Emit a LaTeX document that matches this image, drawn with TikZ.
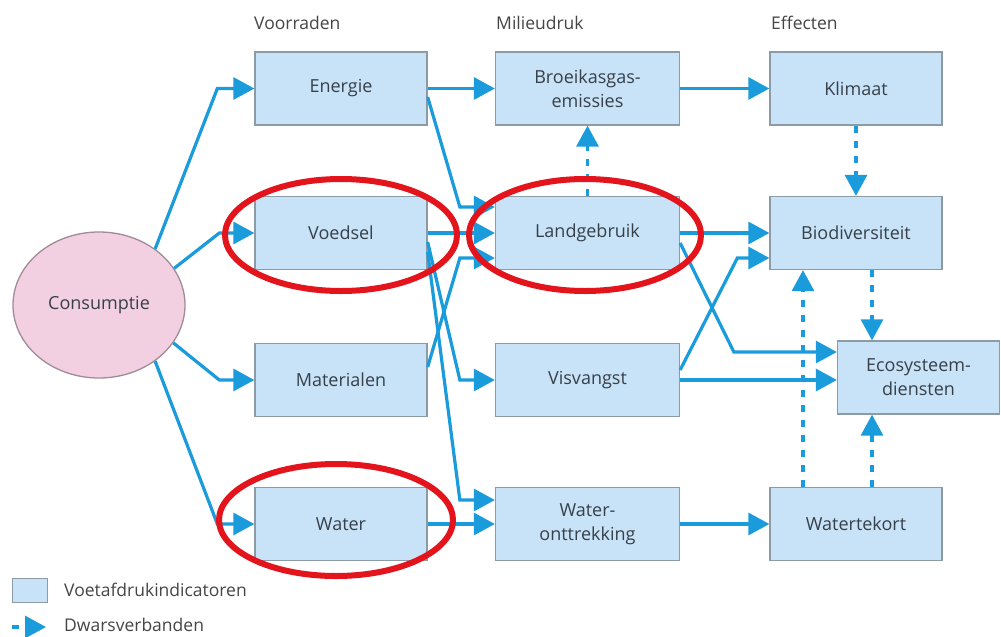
\documentclass[tikz,border=0pt]{standalone}
\usepackage{fontspec}
\setmainfont{Open Sans}
\usetikzlibrary{arrows.meta,shapes.geometric,calc}

\definecolor{boxfill}{HTML}{C8E3F8}
\definecolor{boxline}{HTML}{8C9BA6}
\definecolor{flow}{HTML}{1A9BDB}
\definecolor{consfill}{HTML}{F2D0E2}
\definecolor{consline}{HTML}{A08C98}
\definecolor{hilite}{HTML}{E3141C}
\definecolor{txt}{HTML}{36404A}
\definecolor{headtxt}{HTML}{454545}

\begin{document}
\begin{tikzpicture}[x=1pt,y=-1pt,
  ind/.style={draw=boxline, line width=1.3pt, fill=boxfill,
    minimum width=172pt, minimum height=73pt, inner sep=0pt,
    align=center, text=txt, font=\fontsize{18}{24}\selectfont},
  wideind/.style={ind, minimum width=184pt},
  head/.style={anchor=base west, inner sep=0pt, text=headtxt,
    font=\fontsize{17.5}{21}\selectfont},
  legendtext/.style={anchor=west, inner sep=0pt, text=headtxt,
    font=\fontsize{17.5}{21}\selectfont},
  flowarrow/.style={draw=flow, line width=3.2pt, line join=miter,
    -{Triangle[length=21pt,width=22pt]}},
  cross/.style={flowarrow, dash pattern=on 7pt off 8pt},
  ring/.style={draw=hilite, line width=6pt}
]
% canvas
\fill[white] (0,0) rectangle (1001,637);
\useasboundingbox (0,0) rectangle (1001,637);

% column headings
\node[head] (hvoorraden) at (254,29) {Voorraden};
\node[head] (hmilieudruk) at (496,29) {Milieudruk};
\node[head] (heffecten) at (771,29) {Effecten};

% consumption
\node[ellipse, draw=consline, line width=1.3pt, fill=consfill,
  minimum width=172pt, minimum height=146pt, inner sep=0pt,
  text=txt, font=\fontsize{18}{24}\selectfont] (cons) at (99,305) {Consumptie};

% resources
\node[ind] (energie) at (341,88.5) {Energie};
\node[ind] (voedsel) at (341,233) {Voedsel};
\node[ind] (materialen) at (341,380) {Materialen};
\node[ind] (water) at (341,524) {Water};

% pressures
\node[wideind] (broeikas) at (587.5,88.5) {Broeikasgas-\\emissies};
\node[wideind] (landgebruik) at (587.5,233) {Landgebruik};
\node[wideind] (visvangst) at (587.5,380) {Visvangst};
\node[wideind] (onttrekking) at (587.5,524) {Water-\\onttrekking};

% effects
\node[ind] (klimaat) at (856,88.5) {Klimaat};
\node[ind] (biodiv) at (856,233) {Biodiversiteit};
\node[ind] (watertekort) at (856,524) {Watertekort};
\node[ind, minimum width=162pt] (ecosys) at (918.5,377.5) {Ecosysteem-\\diensten};

% consumption -> resources
\draw[flowarrow] (cons.45) -- ([xshift=-37]energie.west) -- (energie.west);
\draw[flowarrow] (cons.26) -- ([xshift=-35]voedsel.west) -- (voedsel.west);
\draw[flowarrow] (cons.-27) -- ([xshift=-35]materialen.west) -- (materialen.west);
\draw[flowarrow] (cons.-45) -- ([xshift=-37]water.west) -- (water.west);

% resources -> pressures
\draw[flowarrow] (energie.east) -- (broeikas.west);
\draw[flowarrow] ([yshift=-8.5]energie.east) -- ([xshift=-35,yshift=26]landgebruik.west) -- ([yshift=26]landgebruik.west);
\draw[flowarrow] (voedsel.east) -- (landgebruik.west);
\draw[flowarrow] ([yshift=13]materialen.east) -- ([xshift=-35,yshift=-25]landgebruik.west) -- ([yshift=-25]landgebruik.west);
\draw[flowarrow] ([yshift=-9]voedsel.east) -- ([xshift=-35]visvangst.west) -- (visvangst.west);
\draw[flowarrow] ([yshift=-19]voedsel.east) -- ([xshift=-35,yshift=24]onttrekking.west) -- ([yshift=24]onttrekking.west);
\draw[flowarrow] (water.east) -- (onttrekking.west);

% pressures -> effects
\draw[flowarrow] (broeikas.east) -- (klimaat.west);
\draw[flowarrow] (landgebruik.east) -- (biodiv.west);
\draw[flowarrow] ([yshift=-10]landgebruik.east) -- ([xshift=-103,yshift=25.5]ecosys.west) -- ([yshift=25.5]ecosys.west);
\draw[flowarrow] ([yshift=10]visvangst.east) -- ([xshift=-32,yshift=-25]biodiv.west) -- ([yshift=-25]biodiv.west);
\draw[flowarrow] (visvangst.east) -- (visvangst.east -| ecosys.west);
\draw[flowarrow] (onttrekking.east) -- (watertekort.west);

% cross links
\draw[cross] (landgebruik.north) -- (broeikas.south);
\draw[cross] (klimaat.south) -- (biodiv.north);
\draw[cross] ([xshift=16]biodiv.south) -- ([xshift=16]biodiv.south |- ecosys.north);
\draw[cross] ([xshift=-53]watertekort.north) -- ([xshift=-53]watertekort.north |- biodiv.south);
\draw[cross] ([xshift=16]watertekort.north) -- ([xshift=16]watertekort.north |- ecosys.south);

% highlight rings
\draw[ring] ([yshift=-2]voedsel.center) ellipse [x radius=116pt, y radius=56pt];
\draw[ring] ([xshift=-2.5,yshift=-2]landgebruik.center) ellipse [x radius=116pt, y radius=56pt];
\draw[ring] ([xshift=-5,yshift=4]water.center) ellipse [x radius=117pt, y radius=56pt];

% legend
\node[draw=boxline, line width=1.3pt, fill=boxfill, minimum width=35pt,
  minimum height=24pt, inner sep=0pt] (legbox) at (30,590.5) {};
\node[legendtext] (legind) at (64,590) {Voetafdrukindicatoren};
\coordinate (legA) at (12,627);
\coordinate (legB) at (46,627);
\draw[cross] (legA) -- (legB);
\node[legendtext] (legcross) at (64,625) {Dwarsverbanden};
\end{tikzpicture}
\end{document}
